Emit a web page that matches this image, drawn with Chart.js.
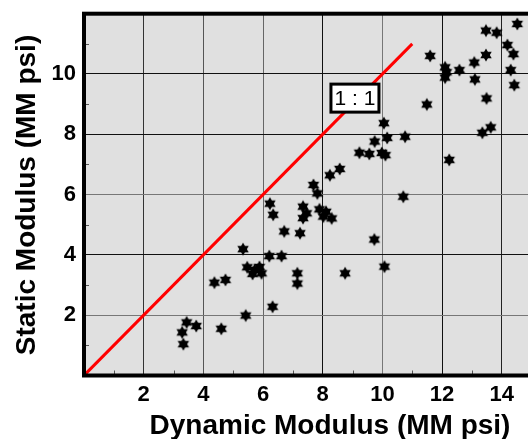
<!DOCTYPE html>
<html>
<head>
<meta charset="utf-8">
<script src="https://cdn.jsdelivr.net/npm/chart.js@4"></script>
<style>
    html, body { margin: 0; padding: 0; background: #fff; overflow: hidden; }
    #wrap { position: relative; width: 545px; height: 439px; }
</style>
</head>
<body>
<div id="wrap"><canvas id="chart"></canvas></div>
<script>
// dynamic vs static modulus, MM psi
var dynamicModulus = [3.29, 3.33, 3.44, 3.76, 4.60, 4.37, 4.74, 5.33, 5.42, 5.47,
    5.65, 5.88, 5.95, 5.72, 6.21, 6.62, 6.32, 6.23, 6.34, 6.71,
    7.24, 7.15, 7.15, 7.34, 7.34, 7.46, 7.89, 8.11, 8.02, 8.30,
    7.69, 7.82, 8.24, 8.57, 8.75, 9.73, 10.07, 10.70, 9.23, 9.56,
    9.98, 10.10, 9.74, 10.16, 10.76, 10.05, 11.49, 11.60, 12.10, 12.15,
    12.10, 12.58, 12.24, 13.08, 13.10, 13.47, 13.47, 13.83, 13.49, 13.63,
    13.35, 14.19, 14.39, 14.30, 14.42, 14.52];
var staticModulus = [1.43, 1.04, 1.76, 1.64, 1.55, 3.08, 3.17, 4.19, 1.99, 3.59,
    3.37, 3.60, 3.39, 3.50, 3.96, 3.96, 2.28, 5.70, 5.33, 4.78,
    4.72, 3.39, 3.05, 5.60, 5.22, 5.38, 5.51, 5.43, 5.27, 5.21,
    6.32, 6.04, 6.64, 6.85, 3.39, 4.51, 3.61, 5.93, 7.39, 7.35,
    7.38, 7.31, 7.76, 7.88, 7.92, 8.37, 8.99, 10.60, 10.22, 10.06,
    9.88, 10.13, 7.15, 10.38, 9.82, 10.63, 11.44, 11.37, 9.19, 8.23,
    8.05, 10.96, 10.66, 10.13, 9.63, 11.66];

// 1:1 reference line
var lineX = [0, 11];
var lineY = [0, 11];
var lineLabel = "1 : 1";

var xTitle = "Dynamic Modulus (MM psi)";
var yTitle = "Static Modulus (MM psi)";

var font = "'Liberation Sans', Arial, sans-serif";

function makeStar(r) {
    var c = document.createElement("canvas");
    var s = Math.ceil(r * 2) + 2;
    c.width = s;
    c.height = s;
    var g = c.getContext("2d");
    g.fillStyle = "#000";
    [-90, 90].forEach(function (start) {
        g.beginPath();
        for (var k = 0; k < 3; k++) {
            var a = (start + k * 120) * Math.PI / 180;
            g.lineTo(s / 2 + r * Math.cos(a), s / 2 + r * Math.sin(a));
        }
        g.closePath();
        g.fill();
    });
    return c;
}

function toPoints(xs, ys) {
    return xs.map(function (x, i) { return {x: x, y: ys[i]}; });
}

var xGridColors = {2: "#333", 4: "#555", 6: "#666", 8: "#111", 10: "#777", 12: "#111", 14: "#222"};
var yGridColors = {2: "#777", 4: "#111", 6: "#777", 8: "#111", 10: "#111"};

// grey plot background, frame, minor ticks, 1:1 label and axis titles
var decor = {
    id: "decor",
    beforeDraw: function (chart) {
        var a = chart.chartArea, ctx = chart.ctx;
        ctx.save();
        ctx.fillStyle = "#e0e0e0";
        ctx.fillRect(a.left, a.top, a.right - a.left, a.bottom - a.top);
        ctx.restore();
    },
    afterDraw: function (chart) {
        var a = chart.chartArea, ctx = chart.ctx;
        var xs = chart.scales.x, ys = chart.scales.y;
        ctx.save();
        // minor ticks
        ctx.strokeStyle = "#555";
        ctx.lineWidth = 1;
        for (var v = 1; v <= 15; v += 2) {
            var px = Math.round(xs.getPixelForValue(v)) + 0.5;
            ctx.beginPath();
            ctx.moveTo(px, a.bottom);
            ctx.lineTo(px, a.bottom - 5);
            ctx.stroke();
        }
        for (var w = 1; w <= 11; w += 2) {
            var py = Math.round(ys.getPixelForValue(w)) + 0.5;
            ctx.beginPath();
            ctx.moveTo(a.left, py);
            ctx.lineTo(a.left + 5, py);
            ctx.stroke();
        }
        // frame
        ctx.strokeStyle = "#000";
        ctx.lineWidth = 4;
        ctx.strokeRect(a.left, a.top, a.right - a.left, a.bottom - a.top);

        // 1:1 label box
        var cx = xs.getPixelForValue(9.08), cy = ys.getPixelForValue(9.2);
        ctx.fillStyle = "#fff";
        ctx.fillRect(cx - 24, cy - 14, 48, 28);
        ctx.lineWidth = 3;
        ctx.strokeRect(cx - 24, cy - 14, 48, 28);
        ctx.fillStyle = "#000";
        ctx.font = "21px " + font;
        ctx.textAlign = "center";
        ctx.textBaseline = "middle";
        ctx.fillText(lineLabel, cx, cy + 1);

        // axis titles
        ctx.font = "bold 28px " + font;
        ctx.textBaseline = "alphabetic";
        ctx.fillText(xTitle, 330, 434);
        ctx.translate(35, 195);
        ctx.rotate(-Math.PI / 2);
        ctx.fillText(yTitle, 0, 0);
        ctx.restore();
    }
};

new Chart(document.getElementById("chart"), {
    type: "scatter",
    data: {
        datasets: [
            {
                data: toPoints(dynamicModulus, staticModulus),
                pointStyle: makeStar(6.6),
                pointRadius: 6,
                order: 1
            },
            {
                type: "line",
                data: toPoints(lineX, lineY),
                borderColor: "#ff0000",
                borderWidth: 3,
                pointRadius: 0,
                fill: false,
                order: 2
            }
        ]
    },
    options: {
        responsive: true,
        maintainAspectRatio: false,
        animation: false,
        layout: {
            padding: {top: 13.7, right: 13.4, left: 0, bottom: 0}
        },
        plugins: {
            legend: {
                display: false
            },
            tooltip: {
                enabled: false
            }
        },
        scales: {
            x: {
                type: "linear",
                min: 0,
                max: 15,
                afterFit: function (scale) {
                    scale.height = 63.5;
                    scale.paddingLeft = 0;
                    scale.paddingRight = 0;
                },
                border: {display: false},
                grid: {
                    drawTicks: false,
                    lineWidth: 1,
                    color: function (c) { return xGridColors[c.tick.value] || "rgba(0,0,0,0)"; }
                },
                ticks: {
                    stepSize: 2,
                    includeBounds: false,
                    autoSkip: false,
                    maxRotation: 0,
                    padding: 6,
                    color: "#000",
                    font: {family: font, size: 22, weight: "bold"},
                    callback: function (v) { return (v > 0 && v < 15) ? v : ""; }
                }
            },
            y: {
                type: "linear",
                min: 0,
                max: 12,
                afterFit: function (scale) {
                    scale.width = 84;
                    scale.paddingTop = 0;
                    scale.paddingBottom = 0;
                },
                border: {display: false},
                grid: {
                    drawTicks: false,
                    lineWidth: 1,
                    color: function (c) { return yGridColors[c.tick.value] || "rgba(0,0,0,0)"; }
                },
                ticks: {
                    stepSize: 2,
                    autoSkip: false,
                    padding: 8,
                    color: "#000",
                    font: {family: font, size: 22, weight: "bold"},
                    callback: function (v) { return (v > 0 && v < 12) ? v : ""; }
                }
            }
        }
    },
    plugins: [decor]
});
</script>
</body>
</html>
